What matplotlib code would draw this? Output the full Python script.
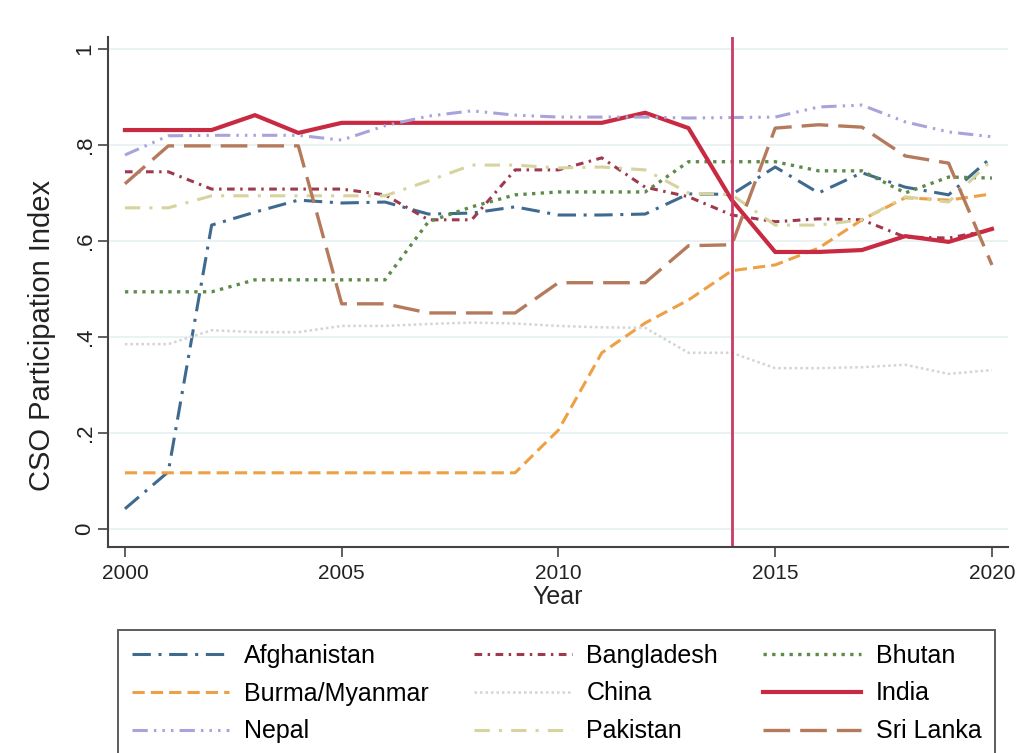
import numpy as np
import matplotlib.pyplot as plt

plt.rcParams['font.family'] = ['Liberation Sans', 'DejaVu Sans']

years = list(range(2000, 2021))

afghanistan = [0.042, 0.119, 0.633, 0.660, 0.685, 0.679, 0.681, 0.656, 0.658, 0.671, 0.654,
               0.654, 0.656, 0.698, 0.697, 0.754, 0.700, 0.742, 0.712, 0.696, 0.775]
bangladesh = [0.744, 0.744, 0.708, 0.708, 0.708, 0.708, 0.696, 0.644, 0.644, 0.748, 0.748,
              0.773, 0.712, 0.692, 0.654, 0.640, 0.646, 0.644, 0.608, 0.606, 0.623]
bhutan = [0.494, 0.494, 0.494, 0.519, 0.519, 0.519, 0.519, 0.640, 0.671, 0.696, 0.702,
          0.702, 0.702, 0.765, 0.765, 0.765, 0.746, 0.746, 0.700, 0.733, 0.731]
burma = [0.117, 0.117, 0.117, 0.117, 0.117, 0.117, 0.117, 0.117, 0.117, 0.117, 0.206,
         0.367, 0.429, 0.477, 0.538, 0.550, 0.585, 0.644, 0.690, 0.685, 0.698]
china = [0.385, 0.385, 0.414, 0.410, 0.410, 0.423, 0.423, 0.427, 0.430, 0.428, 0.423,
         0.420, 0.419, 0.367, 0.367, 0.335, 0.335, 0.337, 0.342, 0.323, 0.331]
india = [0.831, 0.831, 0.831, 0.862, 0.825, 0.846, 0.846, 0.846, 0.846, 0.846, 0.846,
         0.846, 0.867, 0.835, 0.685, 0.577, 0.577, 0.581, 0.610, 0.598, 0.625]
nepal = [0.779, 0.819, 0.820, 0.820, 0.820, 0.810, 0.840, 0.860, 0.871, 0.862, 0.858,
         0.858, 0.858, 0.856, 0.857, 0.858, 0.879, 0.883, 0.848, 0.827, 0.817]
pakistan = [0.669, 0.669, 0.694, 0.694, 0.694, 0.694, 0.694, 0.725, 0.758, 0.758, 0.752,
            0.754, 0.748, 0.700, 0.696, 0.633, 0.633, 0.644, 0.692, 0.681, 0.769]
sri_lanka = [0.719, 0.798, 0.798, 0.798, 0.798, 0.469, 0.469, 0.450, 0.450, 0.450, 0.513,
             0.513, 0.513, 0.590, 0.592, 0.835, 0.842, 0.837, 0.777, 0.762, 0.550]

series = [
    ('Afghanistan', afghanistan, '#3f6a8f', (0, (6, 2.5, 1, 2.5)), 2.2),
    ('Bangladesh', bangladesh, '#9e3a4e', (0, (2.5, 1.8, 0.8, 1.8)), 2.2),
    ('Bhutan', bhutan, '#5e8b4a', (0, (1, 1.6)), 2.4),
    ('Burma/Myanmar', burma, '#eea044', (0, (4, 2)), 2.2),
    ('China', china, '#d4d4d4', (0, (1, 1.2)), 1.8),
    ('India', india, '#c82a42', '-', 3.0),
    ('Nepal', nepal, '#a9a3dc', (0, (5, 2, 0.8, 2, 0.8, 2, 0.8, 2)), 2.2),
    ('Pakistan', pakistan, '#d6d39e', (0, (5, 3, 1, 3)), 2.2),
    ('Sri Lanka', sri_lanka, '#b57a5c', (0, (8, 3)), 2.4),
]

fig = plt.figure(figsize=(10.25, 7.53), dpi=100)
ax = fig.add_axes([0.1054, 0.2736, 0.878, 0.6774])

for yv in np.arange(0, 1.01, 0.2):
    ax.axhline(yv, color='#e8f0f1', lw=1.2, zorder=0)

lines = {}
for name, vals, col, ls, lw in series:
    lines[name], = ax.plot(years, vals, color=col, linestyle=ls, lw=lw, label=name)

ax.axvline(2014, color='#cc3a66', lw=2)

ax.set_xlim(1999.61, 2020.37)
ax.set_ylim(-0.0375, 1.025)
ax.set_xticks([2000, 2005, 2010, 2015, 2020])
ax.set_yticks([0, 0.2, 0.4, 0.6, 0.8, 1.0])
ax.set_yticklabels(['0', '.2', '.4', '.6', '.8', '1'], rotation=90, va='center')
ax.tick_params(axis='both', length=7, width=1.2, color='#444444', labelcolor='#222222')
ax.tick_params(axis='x', labelsize=15, pad=5)
ax.tick_params(axis='y', labelsize=16, pad=2)

for s in ['top', 'right']:
    ax.spines[s].set_visible(False)
for s in ['left', 'bottom']:
    ax.spines[s].set_color('#444444')
    ax.spines[s].set_linewidth(1.5)

ax.set_xlabel('Year', fontsize=18, labelpad=2, color='#222222')
ax.set_ylabel('CSO Participation Index', fontsize=21, color='#222222')
ax.yaxis.set_label_coords(-0.058, 0.414)

# row-major order like the original legend
order = ['Afghanistan', 'Burma/Myanmar', 'Nepal',
         'Bangladesh', 'China', 'Pakistan',
         'Bhutan', 'India', 'Sri Lanka']
leg = fig.legend([lines[n] for n in order], order, loc='upper left',
                 bbox_to_anchor=(118 / 1025, 1 - 630 / 753), ncol=3, fontsize=18,
                 frameon=True, fancybox=False, edgecolor='#333333', handlelength=3.9,
                 columnspacing=1.8, labelspacing=0.55, borderpad=0.55, handletextpad=0.6,
                 borderaxespad=0)
leg.get_frame().set_linewidth(1.4)

fig.savefig('out.png', dpi=100)
